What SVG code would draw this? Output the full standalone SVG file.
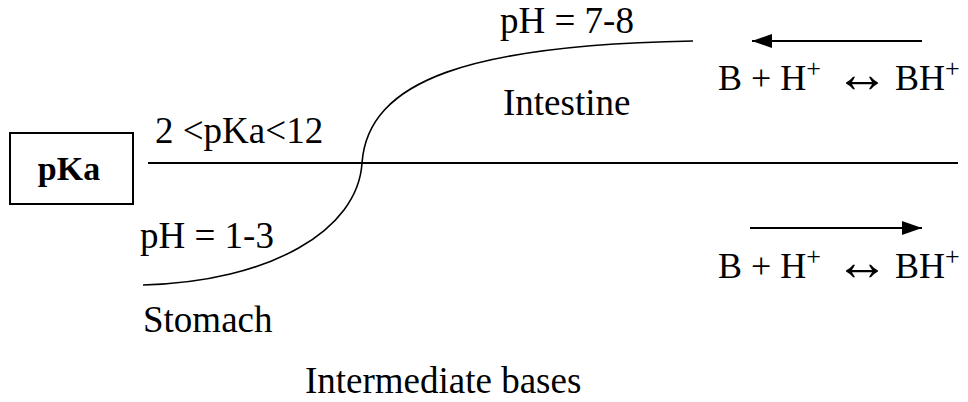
<svg xmlns="http://www.w3.org/2000/svg" width="968" height="402" viewBox="0 0 968 402">
<defs>
<style>
text{font-family:'Liberation Serif','DejaVu Serif',serif;font-size:37px;fill:#000}
.b{font-weight:bold;font-size:34px}
.eq{font-size:36px}
.sup{font-size:26px}
.arr{font-size:54px}
.ln{stroke:#000;fill:none}
</style>
<marker id="ah2" viewBox="0 0 20 14" refX="20" refY="7" markerWidth="20" markerHeight="14" markerUnits="userSpaceOnUse" orient="auto">
<path d="M0,0 L20,7 L0,14 z" fill="#000"/>
</marker>
</defs>
<rect width="968" height="402" fill="#fff"/>
<g id="pka-box">
<rect x="10" y="133" width="123" height="71" fill="#fff" stroke="#000" stroke-width="2"/>
<text class="b" x="69" y="180" text-anchor="middle">pKa</text>
</g>
<g id="connectors">
<line class="ln" x1="148" y1="163" x2="958" y2="163" stroke-width="2"/>
<path class="ln" d="M143,285 C270,282 358,230 362,163 C368,80 470,45 693,41" stroke-width="1.6"/>
<line class="ln" x1="922" y1="41" x2="752" y2="41" stroke-width="2" marker-end="url(#ah2)"/>
<line class="ln" x1="750" y1="228" x2="922" y2="228" stroke-width="2" marker-end="url(#ah2)"/>
</g>
<g id="labels">
<text x="155" y="143">2 &lt;pKa&lt;12</text>
<text x="140" y="248">pH = 1-3</text>
<text x="143" y="332">Stomach</text>
<text x="500" y="33">pH = 7-8</text>
<text x="503" y="115">Intestine</text>
<text x="305" y="393">Intermediate bases</text>
</g>
<g id="eq-top">
<text class="eq"><tspan x="718" y="90">B + H</tspan><tspan class="sup" y="77">+</tspan><tspan class="arr" dx="14" y="92">↔</tspan><tspan dx="6" y="90">BH</tspan><tspan class="sup" y="77">+</tspan></text>
</g>
<g id="eq-bottom">
<text class="eq"><tspan x="718" y="278">B + H</tspan><tspan class="sup" y="265">+</tspan><tspan class="arr" dx="14" y="280">↔</tspan><tspan dx="6" y="278">BH</tspan><tspan class="sup" y="265">+</tspan></text>
</g>
</svg>
